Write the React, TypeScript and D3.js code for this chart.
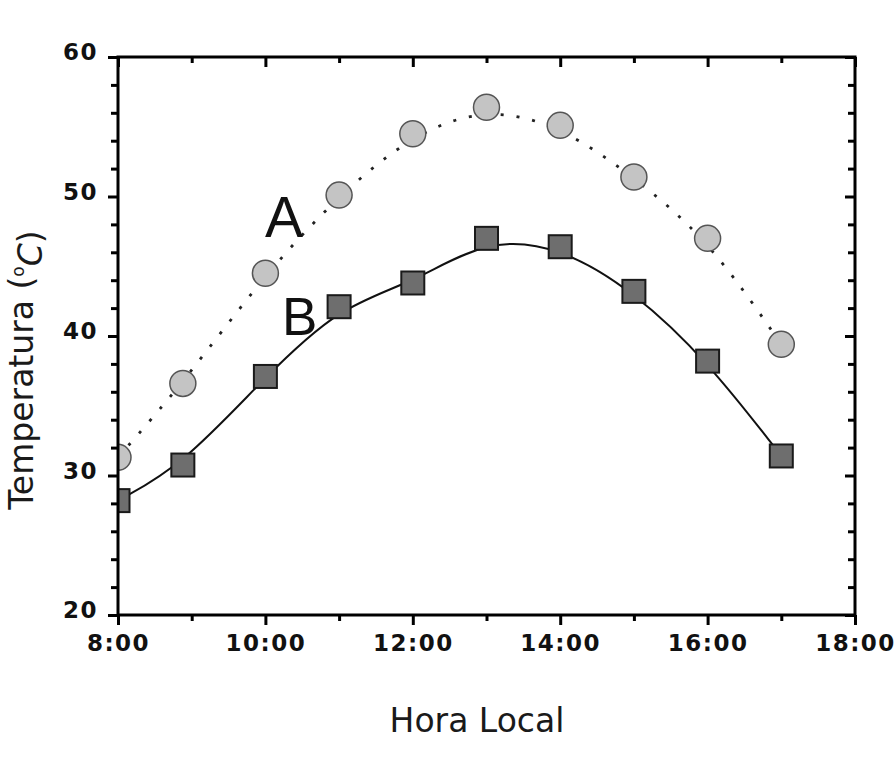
import React, { useRef, useEffect } from "react";
import * as d3 from "d3";

const hours = [8, 8.88, 10, 11, 12, 13, 14, 15, 16, 17];
const seriesA = [31.3, 36.6, 44.5, 50.1, 54.5, 56.4, 55.1, 51.4, 47.0, 39.4];
const seriesB = [28.2, 30.75, 37.1, 42.1, 43.8, 47.0, 46.4, 43.2, 38.2, 31.4];
const xMajor = [8, 10, 12, 14, 16, 18];
const xMinor = [9, 11, 13, 15, 17];
const xLabels = ["8:00", "10:00", "12:00", "14:00", "16:00", "18:00"];
const yMajor = [20, 30, 40, 50, 60];
const yMinor = [22, 24, 26, 28, 32, 34, 36, 38, 42, 44, 46, 48, 52, 54, 56, 58];

const W = 895;
const H = 775;

export default function App() {
  const svgRef = useRef<SVGSVGElement>(null);

  useEffect(() => {
    if (!svgRef.current) return;
    const svg = d3.select(svgRef.current);
    svg.selectAll("*").remove();

    const left = 118, right = 855, top = 57, bottom = 615;
    const x = d3.scaleLinear().domain([8, 18]).range([left, right]);
    const y = d3.scaleLinear().domain([20, 60]).range([bottom, top]);

    svg.append("rect").attr("width", W).attr("height", H).attr("fill", "#fff");

    svg
      .append("clipPath")
      .attr("id", "plot-clip")
      .append("rect")
      .attr("x", left)
      .attr("y", top)
      .attr("width", right - left)
      .attr("height", bottom - top);

    const tickFont = (g: d3.Selection<SVGGElement, unknown, null, undefined>) => {
      g.select(".domain").remove();
      g.selectAll("line").attr("stroke", "#000").attr("stroke-width", 3);
      g.selectAll("text")
        .style("font-family", "'DejaVu Sans', sans-serif")
        .style("font-weight", "bold")
        .style("font-size", "23px")
        .style("letter-spacing", "1.5px")
        .attr("fill", "#111");
    };

    // eixo inferior
    svg
      .append("g")
      .attr("transform", `translate(0,${bottom})`)
      .call(
        d3
          .axisBottom(x)
          .tickValues(xMajor)
          .tickSize(10)
          .tickPadding(10)
          .tickFormat((d, i) => xLabels[i])
      )
      .call(tickFont);
    svg
      .append("g")
      .attr("transform", `translate(0,${bottom})`)
      .call(d3.axisBottom(x).tickValues(xMinor).tickSize(6).tickFormat(() => ""))
      .call(tickFont);

    // eixo esquerdo
    svg
      .append("g")
      .attr("transform", `translate(${left},0)`)
      .call(d3.axisLeft(y).tickValues(yMajor).tickSize(10).tickPadding(10).tickFormat(d3.format("d")))
      .call(tickFont)
      .call((g) => g.selectAll("text").attr("dy", "0.12em"));
    svg
      .append("g")
      .attr("transform", `translate(${left},0)`)
      .call(d3.axisLeft(y).tickValues(yMinor).tickSize(7).tickFormat(() => ""))
      .call(tickFont);

    // eixo superior (marcas para dentro)
    svg
      .append("g")
      .attr("transform", `translate(0,${top})`)
      .call(d3.axisBottom(x).tickValues(xMajor).tickSize(10).tickFormat(() => ""))
      .call(tickFont);
    svg
      .append("g")
      .attr("transform", `translate(0,${top})`)
      .call(d3.axisBottom(x).tickValues(xMinor).tickSize(6).tickFormat(() => ""))
      .call(tickFont);

    // eixo direito (marcas para dentro)
    svg
      .append("g")
      .attr("transform", `translate(${right},0)`)
      .call(d3.axisLeft(y).tickValues(yMajor).tickSize(10).tickFormat(() => ""))
      .call(tickFont);
    svg
      .append("g")
      .attr("transform", `translate(${right},0)`)
      .call(d3.axisLeft(y).tickValues(yMinor).tickSize(7).tickFormat(() => ""))
      .call(tickFont);

    const plot = svg.append("g").attr("clip-path", "url(#plot-clip)");

    const line = d3
      .line<number>()
      .x((_, i) => x(hours[i]))
      .y((d) => y(d))
      .curve(d3.curveBasis);

    plot
      .append("path")
      .attr("d", line(seriesA))
      .attr("fill", "none")
      .attr("stroke", "#222")
      .attr("stroke-width", 2.8)
      .attr("stroke-dasharray", "3,13");

    plot
      .append("path")
      .attr("d", line(seriesB))
      .attr("fill", "none")
      .attr("stroke", "#111")
      .attr("stroke-width", 2);

    plot
      .selectAll("circle.a")
      .data(seriesA)
      .join("circle")
      .attr("class", "a")
      .attr("cx", (_, i) => x(hours[i]))
      .attr("cy", (d) => y(d))
      .attr("r", 13)
      .attr("fill", "#c4c4c4")
      .attr("stroke", "#555")
      .attr("stroke-width", 1.5);

    const s = 23;
    plot
      .selectAll("rect.b")
      .data(seriesB)
      .join("rect")
      .attr("class", "b")
      .attr("x", (_, i) => x(hours[i]) - s / 2)
      .attr("y", (d) => y(d) - s / 2)
      .attr("width", s)
      .attr("height", s)
      .attr("fill", "#6e6e6e")
      .attr("stroke", "#1a1a1a")
      .attr("stroke-width", 2);

    // moldura
    svg
      .append("rect")
      .attr("x", left)
      .attr("y", top)
      .attr("width", right - left)
      .attr("height", bottom - top)
      .attr("fill", "none")
      .attr("stroke", "#000")
      .attr("stroke-width", 3);

    // rótulos das curvas
    svg
      .append("text")
      .attr("x", 265)
      .attr("y", 237)
      .style("font-family", "'Liberation Sans', sans-serif")
      .style("font-size", "57px")
      .attr("fill", "#111")
      .text("A");
    svg
      .append("text")
      .attr("x", 282)
      .attr("y", 335)
      .style("font-family", "'Liberation Sans', sans-serif")
      .style("font-size", "53px")
      .attr("fill", "#111")
      .text("B");

    // títulos dos eixos
    svg
      .append("text")
      .attr("x", 477)
      .attr("y", 732)
      .attr("text-anchor", "middle")
      .style("font-family", "'DejaVu Sans', sans-serif")
      .style("font-size", "33px")
      .attr("fill", "#1a1a1a")
      .text("Hora Local");

    const yt = svg
      .append("text")
      .attr("transform", `translate(33,370) rotate(-90)`)
      .attr("text-anchor", "middle")
      .style("font-family", "'DejaVu Sans', sans-serif")
      .style("font-size", "33px")
      .attr("fill", "#1a1a1a");
    yt.append("tspan").text("Temperatura (");
    yt.append("tspan").attr("dy", "-0.55em").style("font-size", "17px").text("o");
    yt.append("tspan").attr("dy", "0.55em").style("font-style", "italic").text("C");
    yt.append("tspan").text(")");
  }, []);

  return (
    <svg
      ref={svgRef}
      width={W}
      height={H}
      viewBox={`0 0 ${W} ${H}`}
      style={{ position: "absolute", left: 0, top: 0, display: "block" }}
    />
  );
}
